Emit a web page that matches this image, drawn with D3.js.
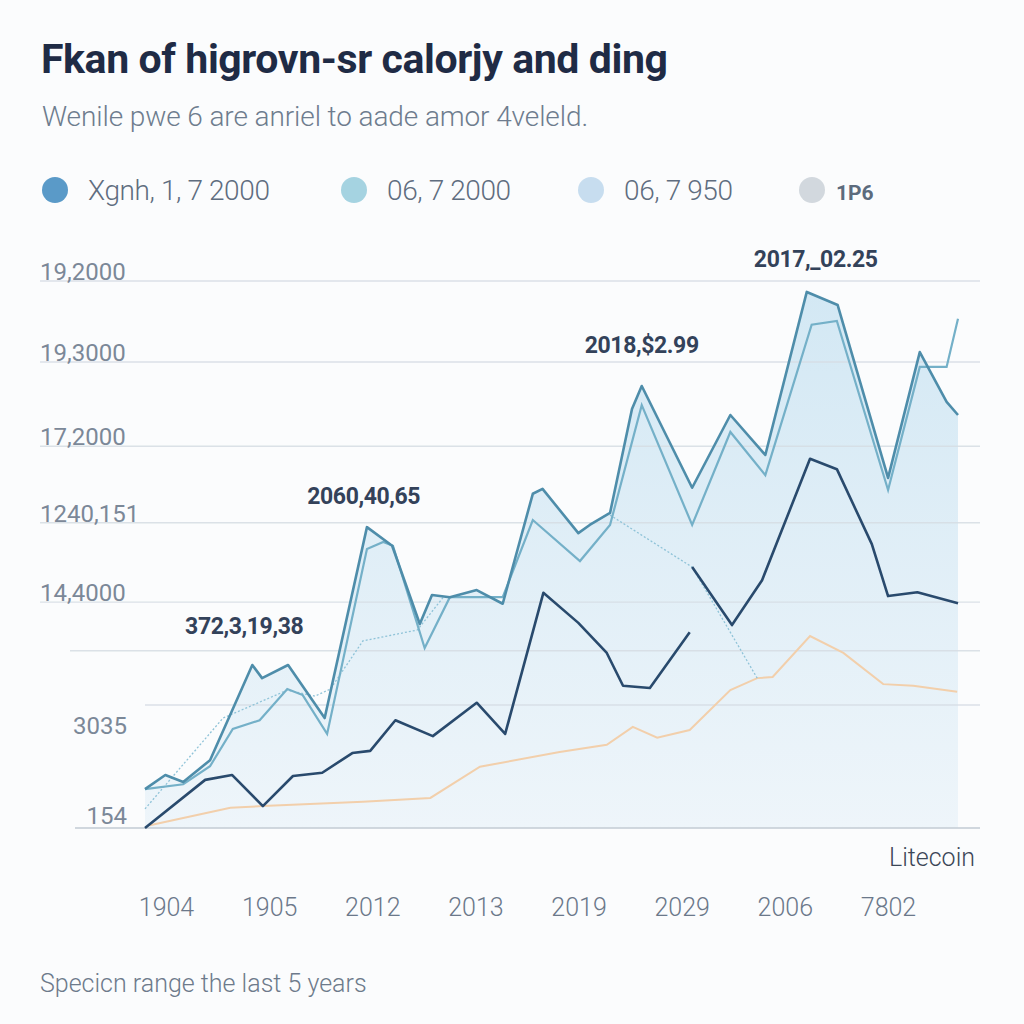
<!DOCTYPE html>
<html><head><meta charset="utf-8">
<script src="https://cdn.jsdelivr.net/npm/d3@7"></script>
<style>
html,body{margin:0;padding:0;background:#fbfcfd;}
svg{display:block;}
text{font-family:Roboto,"Open Sans",sans-serif;}
</style></head>
<body><svg id="c" width="1024" height="1024"></svg>
<script>
// ---------- data ----------
const title = "Fkan of higrovn-sr calorjy and ding";
const subtitle = "Wenile pwe 6 are anriel to aade amor 4veleld.";
const footer = "Specicn range the last 5 years";
const legendLabels = ["Xgnh, 1, 7 2000", "06, 7 2000", "06, 7 950", "1P6"];
const xTickLabels = ["1904","1905","2012","2013","2019","2029","2006","7802"];
const yTickValues = [100, 85.2, 69.8, 55.8, 41.3, 32.4, 22.5, 0];
const yTickLabels = ["19,2000","19,3000","17,2000","1240,151","14,4000","","3035","154"];

// series: [x position (0-100), value]
const seriesA = [[0,7.1],[2.5,9.7],[4.7,8.4],[8.0,12.4],[13.2,29.8],[14.4,27.4],[17.6,29.8],[22.1,20.1],[27.3,55.0],[30.4,51.6],[33.8,37.3],[35.3,42.6],[37.5,42.2],[40.8,43.5],[44.0,41.0],[47.7,61.1],[48.9,62.0],[53.3,53.9],[54.7,55.4],[57.2,57.6],[59.9,76.6],[61.1,80.8],[67.3,62.2],[72.0,75.5],[76.3,68.2],[81.4,98.0],[85.2,95.6],[91.4,64.0],[95.3,87.0],[98.6,77.9],[100,75.5]];
const seriesB = [[0,7.1],[4.7,8.0],[8.0,11.3],[10.8,18.1],[14.1,19.7],[17.5,25.4],[19.4,24.3],[22.4,17.2],[27.3,51.0],[29.3,52.3],[30.5,51.6],[34.4,32.9],[37.5,42.2],[40.8,42.2],[44.0,42.2],[47.7,56.3],[53.5,48.8],[57.2,55.4],[61.1,77.3],[67.3,55.4],[72.0,72.4],[76.3,64.5],[82.0,92.0],[85.1,92.7],[91.4,61.8],[95.3,84.3],[98.6,84.3],[100,93.1]];
const seriesC = [[0,3.5],[9.6,20.1],[17.5,25.2],[20.9,24.1],[22.8,25.4],[26.8,34.2],[33.5,36.2],[36.7,42.2],null,[57.2,57.2],[67.3,47.7],[75.3,27.4]];
const seriesD = [[0,0],[7.4,8.8],[10.7,9.7],[14.5,4.0],[18.2,9.5],[21.8,10.1],[25.5,13.7],[27.7,14.1],[30.8,19.7],[35.4,16.8],[40.8,22.9],[44.3,17.2],[49.0,43.0],[53.3,37.5],[56.8,32.0],[58.8,26.0],[62.1,25.6],[67.0,35.8],null,[67.3,47.7],[72.2,37.1],[75.9,45.3],[81.8,67.5],[85.1,65.6],[89.4,51.9],[91.4,42.4],[95.0,43.1],[100,41.1]];
const seriesE = [[0.6,0.5],[10.5,3.7],[14.5,4.0],[26.8,4.8],[35.1,5.5],[41.2,11.2],[51.0,13.9],[56.8,15.2],[60.0,18.5],[63.0,16.5],[67.0,17.9],[72.0,25.2],[75.3,27.4],[77.2,27.6],[81.8,35.1],[85.9,32.0],[90.8,26.3],[94.5,26.0],[99.9,24.9]];
const annotations = [
  {text:"2017,_02.25", x:82.5, y:102.6},
  {text:"2018,$2.99", x:61.1, y:86.9},
  {text:"2060,40,65", x:26.9, y:59.3},
  {text:"372,3,19,38", x:12.2, y:35.5}
];

// ---------- drawing ----------
const svg = d3.select("#c");
const x = d3.scaleLinear().domain([0,100]).range([145,958]);
const y = d3.scaleLinear().domain([0,100]).range([828,281]);

svg.append("text").attr("x",41).attr("y",73).text(title)
  .attr("font-family","Inter, 'Open Sans', sans-serif").attr("font-weight",700)
  .attr("font-size",41).attr("fill","#1f2b45").attr("letter-spacing","-0.4");
svg.append("text").attr("x",42).attr("y",126).text(subtitle)
  .attr("font-size",28).attr("fill","#6e7c8e").attr("font-weight",300).attr("letter-spacing","-0.1");

// legend
const legendColors = ["#5a9ac8","#a5d3e1","#c7ddef","#d2d8de"];
const legendX = [55,354,591,812];
legendLabels.forEach((l,i)=>{
  svg.append("circle").attr("cx",legendX[i]).attr("cy",190).attr("r",13).attr("fill",legendColors[i]);
  svg.append("text").attr("x",legendX[i]+(i===3?24:33)).attr("y",200).text(l)
    .attr("font-size", i===3?21:28).attr("font-weight", i===3?700:300)
    .attr("fill", i===3?"#5c6b7d":"#5f6d7f").attr("letter-spacing", i===3?0:-0.4);
});

const defs = svg.append("defs");
const g = defs.append("linearGradient").attr("id","ag").attr("x1",0).attr("y1",0).attr("x2",0).attr("y2",1);
g.append("stop").attr("offset","0%").attr("stop-color","#d3e8f4");
g.append("stop").attr("offset","100%").attr("stop-color","#eef5fa");

const area = d3.area().x(d=>x(d[0])).y0(y(0)).y1(d=>y(d[1]));
svg.append("path").datum(seriesA).attr("d",area).attr("fill","url(#ag)");

// gridlines
const gridStart = [40,40,40,40,40,70,145,75];
yTickValues.forEach((v,i)=>{
  svg.append("line").attr("x1",gridStart[i]).attr("x2",980)
    .attr("y1",y(v)).attr("y2",y(v))
    .attr("stroke", i===7?"#c9d1d9":"#d6dde4").attr("stroke-width", i===7?2:1.4).attr("opacity",0.85);
  if (yTickLabels[i]) {
    const right = i>=6;
    svg.append("text").attr("x", right?127:40)
      .attr("y", right ? y(v)+(i===7?-4:29) : y(v)-1)
      .attr("text-anchor", right?"end":"start")
      .text(yTickLabels[i]).attr("font-size",24).attr("fill","#7b8898");
  }
});

const line = d3.line().defined(d=>d!==null).x(d=>x(d[0])).y(d=>y(d[1]));
svg.append("path").datum(seriesE).attr("d",line).attr("fill","none").attr("stroke","#f2cfab").attr("stroke-width",2);
svg.append("path").datum(seriesC).attr("d",line).attr("fill","none").attr("stroke","#8fc3d8").attr("stroke-width",1.3).attr("stroke-dasharray","2,2");
svg.append("path").datum(seriesB).attr("d",line).attr("fill","none").attr("stroke","#74b0c8").attr("stroke-width",2.2);
svg.append("path").datum(seriesA).attr("d",line).attr("fill","none").attr("stroke","#4e8daa").attr("stroke-width",2.6).attr("stroke-linejoin","round");
svg.append("path").datum(seriesD).attr("d",line).attr("fill","none").attr("stroke","#294a6d").attr("stroke-width",2.6).attr("stroke-linejoin","round");

annotations.forEach(a=>{
  svg.append("text").attr("x",x(a.x)).attr("y",y(a.y)).attr("text-anchor","middle")
    .text(a.text).attr("font-size",23).attr("font-weight",700).attr("fill","#33425a")
    .attr("font-family","'Open Sans', sans-serif").attr("letter-spacing","-0.4");
});

const xl = d3.scalePoint().domain(xTickLabels).range([166,888]);
const ax = svg.append("g").attr("transform","translate(0,892)")
  .call(d3.axisBottom(xl).tickSize(0).tickPadding(6));
ax.select(".domain").remove();
ax.selectAll("text").attr("font-size",25).attr("fill","#6b788a").attr("font-family","Roboto, sans-serif").attr("font-weight",300);

svg.append("text").attr("x",975).attr("y",866).attr("text-anchor","end").text("Litecoin")
  .attr("font-size",25).attr("fill","#3b4757").attr("font-weight",300);

svg.append("text").attr("x",40).attr("y",992).text(footer)
  .attr("font-size",25).attr("fill","#6d7a8b").attr("font-weight",300);
</script></body></html>
